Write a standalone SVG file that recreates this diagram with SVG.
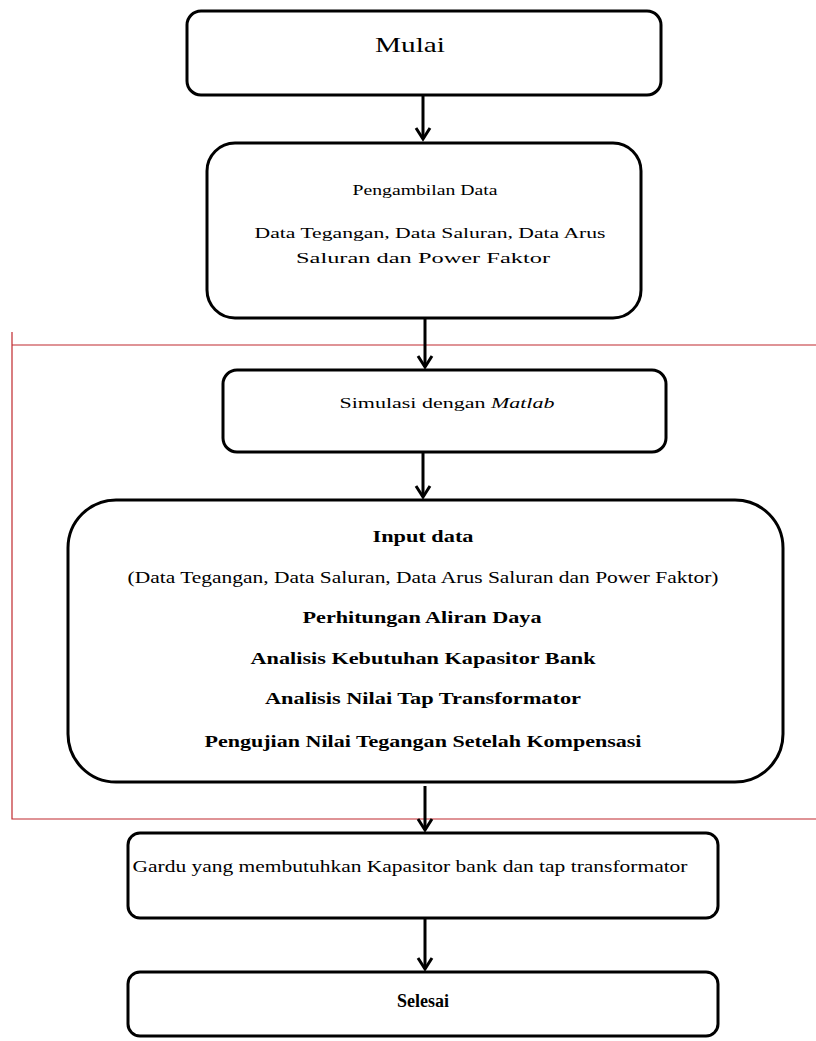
<svg xmlns="http://www.w3.org/2000/svg" width="816" height="1041" viewBox="0 0 816 1041">
<style>
.box{fill:#fff;stroke:#000;stroke-width:3}
.t{font-family:"Liberation Serif","DejaVu Serif","Times New Roman",serif;fill:#000;text-anchor:middle}
.b{font-weight:bold}
.c{stroke:#000;stroke-width:3;fill:none}
.ah{stroke:#000;stroke-width:3;fill:none;stroke-linejoin:miter}
.red{stroke:#c0282e;stroke-width:1.2;fill:none}
</style>
<rect width="816" height="1041" fill="#fff"/>
<path class="red" d="M816,345 H12 M12,332 V819 H816"/>
<g id="connectors">
<line class="c" x1="423" y1="95" x2="423" y2="139"/>
<path class="ah" d="M416,128 L423,139 L430,128"/>
<line class="c" x1="425" y1="318" x2="425" y2="367"/>
<path class="ah" d="M418,356 L425,367 L432,356"/>
<line class="c" x1="423" y1="452" x2="423" y2="497"/>
<path class="ah" d="M416,486 L423,497 L430,486"/>
<line class="c" x1="425" y1="786" x2="425" y2="830"/>
<path class="ah" d="M418,819 L425,830 L432,819"/>
<line class="c" x1="425" y1="918" x2="425" y2="969"/>
<path class="ah" d="M418,958 L425,969 L432,958"/>
</g>
<g id="mulai">
<rect class="box" x="187" y="11" width="474" height="84" rx="14"/>
<text class="t" x="410" y="52" font-size="22" textLength="70" lengthAdjust="spacingAndGlyphs">Mulai</text>
</g>
<g id="pengambilan">
<rect class="box" x="207" y="143" width="434" height="175" rx="28"/>
<text class="t" x="425" y="195" font-size="15" textLength="145" lengthAdjust="spacingAndGlyphs">Pengambilan Data</text>
<text class="t" x="430" y="238" font-size="15" textLength="351" lengthAdjust="spacingAndGlyphs">Data Tegangan, Data Saluran, Data Arus</text>
<text class="t" x="423" y="263" font-size="15" textLength="254" lengthAdjust="spacingAndGlyphs">Saluran dan Power Faktor</text>
</g>
<g id="simulasi">
<rect class="box" x="223" y="370" width="443" height="82" rx="14"/>
<text class="t" x="447" y="408" font-size="15" textLength="215" lengthAdjust="spacingAndGlyphs">Simulasi dengan <tspan font-style="italic">Matlab</tspan></text>
</g>
<g id="input">
<rect class="box" x="68" y="500" width="715" height="282" rx="48"/>
<text class="t b" x="423" y="542" font-size="17" textLength="101" lengthAdjust="spacingAndGlyphs">Input data</text>
<text class="t" x="423" y="583" font-size="16" textLength="591" lengthAdjust="spacingAndGlyphs">(Data Tegangan, Data Saluran, Data Arus Saluran dan Power Faktor)</text>
<text class="t b" x="422" y="623" font-size="17" textLength="239" lengthAdjust="spacingAndGlyphs">Perhitungan Aliran Daya</text>
<text class="t b" x="423" y="664" font-size="17" textLength="345" lengthAdjust="spacingAndGlyphs">Analisis Kebutuhan Kapasitor Bank</text>
<text class="t b" x="423" y="704" font-size="17" textLength="316" lengthAdjust="spacingAndGlyphs">Analisis Nilai Tap Transformator</text>
<text class="t b" x="423" y="747" font-size="17" textLength="437" lengthAdjust="spacingAndGlyphs">Pengujian Nilai Tegangan Setelah Kompensasi</text>
</g>
<g id="gardu">
<rect class="box" x="128" y="833" width="590" height="85" rx="12"/>
<text class="t" x="410" y="872" font-size="16" textLength="555" lengthAdjust="spacingAndGlyphs">Gardu yang membutuhkan Kapasitor bank dan tap transformator</text>
</g>
<g id="selesai">
<rect class="box" x="128" y="972" width="590" height="64" rx="12"/>
<text class="t b" x="423" y="1007" font-size="18" textLength="52" lengthAdjust="spacingAndGlyphs">Selesai</text>
</g>
</svg>
